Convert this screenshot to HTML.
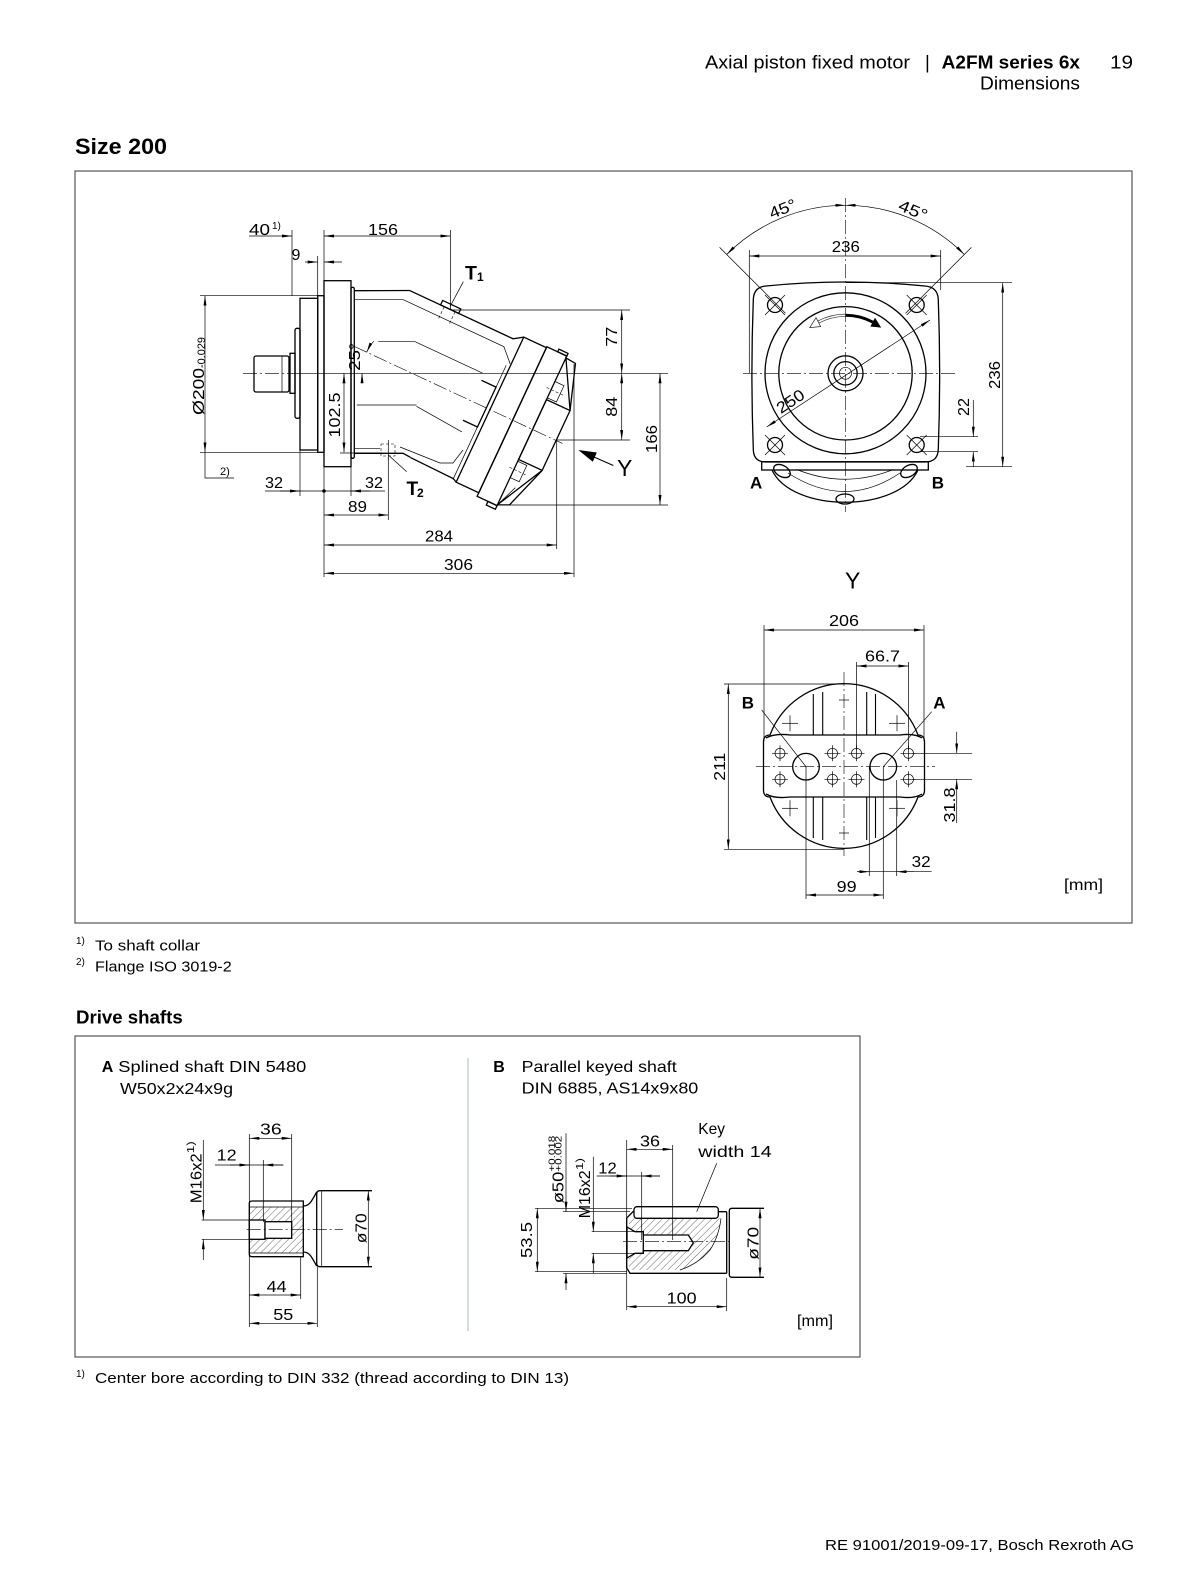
<!DOCTYPE html>
<html><head><meta charset="utf-8">
<style>
html,body{margin:0;padding:0;background:#fff;}
svg{display:block;}
text{font-family:"Liberation Sans",Arial,sans-serif;fill:#000;}
.o{fill:none;stroke:#000;stroke-width:1.3;}
.ow{fill:#fff;stroke:#000;stroke-width:1.3;}
.t{fill:none;stroke:#000;stroke-width:0.7;}
.d{fill:none;stroke:#000;stroke-width:0.7;}
.c{fill:none;stroke:#000;stroke-width:0.6;stroke-dasharray:14 3 2 3;}
.h{fill:none;stroke:#000;stroke-width:0.6;stroke-dasharray:3 2;}
</style></head><body>
<svg width="1190" height="1586" viewBox="0 0 1190 1586" xmlns="http://www.w3.org/2000/svg">
<defs>
<marker id="a" viewBox="0 0 10 3" refX="10" refY="1.5" markerWidth="10" markerHeight="3" markerUnits="userSpaceOnUse" orient="auto-start-reverse"><path d="M0,0 L10,1.5 L0,3 z" fill="#000"/></marker>
<pattern id="hat" patternUnits="userSpaceOnUse" width="5" height="5" patternTransform="rotate(45)"><line x1="0" y1="0" x2="0" y2="5" stroke="#000" stroke-width="0.6"/></pattern>
</defs>
<rect width="1190" height="1586" fill="#fff"/>

<!-- Header -->
<text x="705" y="68.3" font-size="18.5" textLength="205" lengthAdjust="spacingAndGlyphs">Axial piston fixed motor</text>
<text x="925" y="68.3" font-size="18.5">|</text>
<text x="941.7" y="68.3" font-size="18.5" font-weight="bold" textLength="138.3" lengthAdjust="spacingAndGlyphs">A2FM series 6x</text>
<text x="1110" y="68.3" font-size="18.5" textLength="23" lengthAdjust="spacingAndGlyphs">19</text>
<text x="980" y="89.3" font-size="18.5" textLength="100" lengthAdjust="spacingAndGlyphs">Dimensions</text>

<text x="75" y="154" font-size="22" font-weight="bold" textLength="92" lengthAdjust="spacingAndGlyphs">Size 200</text>

<!-- Main box -->
<rect x="75" y="171" width="1057" height="752" fill="none" stroke="#555" stroke-width="1.2"/>

<!-- ================= SIDE VIEW ================= -->
<g>
<rect class="o" x="254" y="356" width="35" height="36" rx="2"/>
<line class="t" x1="282" y1="356" x2="282" y2="392"/>
<rect class="o" x="290" y="353.3" width="5" height="40"/>
<rect class="o" x="295" y="328.3" width="5" height="90" rx="2"/>
<rect class="o" x="300" y="298.3" width="17.7" height="151.7"/>
<rect class="o" x="317.7" y="295.7" width="6.3" height="156.6"/>
<rect class="o" x="324" y="280.7" width="27" height="186"/>
<rect class="o" x="351" y="287.3" width="3.3" height="171" rx="1.5"/>
<polyline class="o" points="354.3,290.7 409.8,290.5"/>
<polyline class="o" points="354.3,453.3 403,453.3 410.2,457.2"/>
<!-- inner horizontal lines -->
<line class="t" x1="355" y1="299.3" x2="403.3" y2="299.3"/>
<line class="t" x1="378.3" y1="341.7" x2="415.7" y2="341.7"/>
<line class="t" x1="356.7" y1="405" x2="416.5" y2="405"/>
<line class="t" x1="354" y1="448.3" x2="380" y2="448.3"/>
<polyline class="t" points="400,447 440,463 453,463 463,450"/>
<!-- T2 port hidden -->
<rect class="h" x="381" y="444" width="14" height="12"/>
<line class="t" x1="388.3" y1="440" x2="388.3" y2="460"/>
</g>

<!-- tilted body -->
<g transform="translate(412 373.3) rotate(25)">
<polyline class="o" points="-37,-74 77,-74 86,-80"/>
<polyline class="o" points="34,77 82,78 86,80"/>
<rect class="o" x="86" y="-80" width="25" height="160"/>
<rect class="o" x="111" y="-81" width="22" height="165"/>
<rect class="o" x="123" y="-84" width="10" height="3"/>
<rect class="o" x="123" y="84" width="10" height="4"/>
<rect class="o" x="133" y="-33" width="26" height="66"/>
<polygon class="o" points="133,-79 144,-78 159,-33"/>
<polygon class="o" points="133,83 144,78 159,33"/>
<line class="t" x1="133" y1="83" x2="142" y2="60"/>
<rect class="t" x="133" y="-53" width="10" height="18"/>
<rect class="t" x="133" y="35" width="10" height="18"/>
<line class="h" x1="128" y1="-44" x2="148" y2="-44"/>
<line class="h" x1="128" y1="44" x2="148" y2="44"/>
<polyline class="o" points="66,-23 82,-23 82,21 66,21"/>
<line class="c" x1="-64" y1="0" x2="166" y2="0"/>
<polyline class="t" points="-39,-63 72,-63 85,-50"/>
<line class="t" x1="-10" y1="-30" x2="64" y2="-30"/>
<line class="t" x1="18" y1="28" x2="70" y2="32"/>
<line class="t" x1="82" y1="-47" x2="82" y2="79"/>
<rect class="o" x="-3" y="-79" width="20" height="5"/>
<line class="h" x1="1" y1="-74" x2="1" y2="-60"/>
<line class="h" x1="13" y1="-74" x2="13" y2="-60"/>
</g>

<!-- side view centerlines -->
<line class="c" x1="243" y1="373.3" x2="300" y2="373.3"/>
<line class="d" x1="300" y1="373.3" x2="668" y2="373.3"/>

<!-- side view dims -->
<line class="d" x1="249" y1="236" x2="292" y2="236" marker-end="url(#a)"/>
<line class="d" x1="324" y1="236" x2="450.5" y2="236" marker-start="url(#a)" marker-end="url(#a)"/>
<line class="d" x1="292" y1="230" x2="292" y2="296"/>
<line class="d" x1="324" y1="230" x2="324" y2="281"/>
<line class="d" x1="450.5" y1="230" x2="450.5" y2="310"/>
<line class="d" x1="305" y1="262" x2="317.7" y2="262" marker-end="url(#a)"/>
<line class="d" x1="342" y1="262" x2="324" y2="262" marker-end="url(#a)"/>
<line class="d" x1="317.7" y1="256" x2="317.7" y2="296"/>
<!-- Ø200 -->
<line class="d" x1="205" y1="295.7" x2="205" y2="452.3" marker-start="url(#a)" marker-end="url(#a)"/>
<line class="d" x1="200" y1="295.7" x2="318" y2="295.7"/>
<line class="d" x1="200" y1="452.3" x2="318" y2="452.3"/>
<polyline class="d" points="205,452.3 205,478 234,478"/>
<!-- 102.5 -->
<line class="d" x1="344" y1="373.3" x2="344" y2="452.3" marker-start="url(#a)" marker-end="url(#a)"/>
<line class="d" x1="340" y1="453" x2="382" y2="453"/>
<!-- 32 / 32 -->
<line class="d" x1="265" y1="491" x2="385" y2="491"/>
<line class="d" x1="280" y1="491" x2="300" y2="491" marker-end="url(#a)"/>
<line class="d" x1="370" y1="491" x2="351" y2="491" marker-end="url(#a)"/>
<circle cx="324" cy="491" r="1.8" fill="#000"/>
<line class="d" x1="300" y1="450" x2="300" y2="496"/>
<line class="d" x1="351" y1="467" x2="351" y2="496"/>
<line class="d" x1="324" y1="467" x2="324" y2="577"/>
<!-- 89 -->
<line class="d" x1="324" y1="515" x2="388.3" y2="515" marker-start="url(#a)" marker-end="url(#a)"/>
<line class="d" x1="388.3" y1="457" x2="388.3" y2="520"/>
<!-- 284 / 306 -->
<line class="d" x1="324" y1="545" x2="556.7" y2="545" marker-start="url(#a)" marker-end="url(#a)"/>
<line class="d" x1="556.7" y1="440" x2="556.7" y2="549"/>
<line class="d" x1="324" y1="573.3" x2="574" y2="573.3" marker-start="url(#a)" marker-end="url(#a)"/>
<line class="d" x1="574" y1="364" x2="574" y2="577"/>
<!-- 77 / 84 / 166 -->
<line class="d" x1="452" y1="310" x2="630" y2="310"/>
<line class="d" x1="557" y1="440" x2="630" y2="440"/>
<line class="d" x1="497" y1="505" x2="668" y2="505"/>
<line class="d" x1="621.7" y1="310" x2="621.7" y2="373.3" marker-start="url(#a)" marker-end="url(#a)"/>
<line class="d" x1="621.7" y1="373.3" x2="621.7" y2="440" marker-start="url(#a)" marker-end="url(#a)"/>
<line class="d" x1="660" y1="373.3" x2="660" y2="505" marker-start="url(#a)" marker-end="url(#a)"/>
<!-- 25° arc -->
<path class="d" d="M 373.7 341.2 A 50 50 0 0 0 366.7 352.2" marker-end="url(#a)"/>
<path class="d" d="M 362.8 382 A 50 50 0 0 1 362 373.3" marker-end="url(#a)"/>
<!-- leaders T1 T2 -->
<line class="d" x1="463.3" y1="281.7" x2="450" y2="306.7"/>
<line class="d" x1="388.3" y1="455" x2="406.7" y2="471.7"/>
<!-- Y arrow -->
<polygon points="578.3,450 596.8,452.5 592.8,461.7" fill="#000"/>
<line x1="594" y1="457" x2="613.3" y2="465.5" stroke="#000" stroke-width="1"/>

<!-- side view text -->
<text x="249" y="235" font-size="16" textLength="21" lengthAdjust="spacingAndGlyphs">40</text>
<text x="272" y="229" font-size="10">1)</text>
<text x="368" y="235" font-size="16" textLength="30" lengthAdjust="spacingAndGlyphs">156</text>
<text x="291.5" y="260" font-size="16">9</text>
<text x="465" y="279.3" font-size="19.5" font-weight="bold">T</text>
<text x="477" y="281" font-size="12" font-weight="bold">1</text>
<text x="406.5" y="495" font-size="19" font-weight="bold">T</text>
<text x="417" y="497" font-size="12" font-weight="bold">2</text>
<text transform="translate(204 415) rotate(-90)" font-size="16" textLength="47" lengthAdjust="spacingAndGlyphs">Ø200</text>
<text transform="translate(205 368) rotate(-90)" font-size="11" textLength="31" lengthAdjust="spacingAndGlyphs">-0.029</text>
<text transform="translate(340 415) rotate(-90)" font-size="16" text-anchor="middle" textLength="45" lengthAdjust="spacingAndGlyphs">102.5</text>
<text transform="translate(360 356.7) rotate(-90)" font-size="16" text-anchor="middle" textLength="28" lengthAdjust="spacingAndGlyphs">25°</text>
<text x="220" y="475" font-size="11">2)</text>
<text x="265" y="488" font-size="16" textLength="18" lengthAdjust="spacingAndGlyphs">32</text>
<text x="365" y="488" font-size="16" textLength="18" lengthAdjust="spacingAndGlyphs">32</text>
<text x="348" y="512" font-size="16" textLength="19" lengthAdjust="spacingAndGlyphs">89</text>
<text x="425" y="541.7" font-size="16" textLength="28" lengthAdjust="spacingAndGlyphs">284</text>
<text x="444" y="570" font-size="16" textLength="29" lengthAdjust="spacingAndGlyphs">306</text>
<text transform="translate(617 336.7) rotate(-90)" font-size="16" text-anchor="middle" textLength="20" lengthAdjust="spacingAndGlyphs">77</text>
<text transform="translate(617 406.7) rotate(-90)" font-size="16" text-anchor="middle" textLength="20" lengthAdjust="spacingAndGlyphs">84</text>
<text transform="translate(657 439) rotate(-90)" font-size="16" text-anchor="middle" textLength="28" lengthAdjust="spacingAndGlyphs">166</text>
<text x="617" y="476" font-size="23">Y</text>

<!-- ================= FRONT VIEW ================= -->
<path class="o" d="M 766 286 Q 845.5 278 925 286 Q 938 287 938.3 300 Q 941 373 938.3 449 Q 938 462 925 462 L 766 462 Q 753.3 462 753.3 449 Q 750.5 373 753.3 300 Q 753.5 287 766 286 Z"/>
<circle class="o" cx="845.5" cy="373.3" r="80.5"/>
<circle class="o" cx="845.5" cy="373.3" r="66.7"/>
<circle class="o" cx="845.5" cy="373.3" r="17.5"/>
<circle class="o" cx="845.5" cy="373.3" r="11.7"/>
<circle class="t" cx="845.5" cy="373.3" r="6"/>
<g class="o">
<circle cx="775" cy="305" r="7.5"/><circle cx="916.7" cy="305" r="7.5"/>
<circle cx="775" cy="445" r="7.5"/><circle cx="916.7" cy="445" r="7.5"/>
</g>
<g class="t">
<line x1="765" y1="295" x2="785" y2="315"/><line x1="765" y1="315" x2="785" y2="295"/>
<line x1="906.7" y1="295" x2="926.7" y2="315"/><line x1="906.7" y1="315" x2="926.7" y2="295"/>
<line x1="765" y1="435" x2="785" y2="455"/><line x1="765" y1="455" x2="785" y2="435"/>
<line x1="906.7" y1="435" x2="926.7" y2="455"/><line x1="906.7" y1="455" x2="926.7" y2="435"/>
</g>
<!-- rotation arrows -->
<path d="M 845.5 315.3 A 58 58 0 0 1 872.7 322.1" fill="none" stroke="#000" stroke-width="3"/>
<polygon points="881.2,327.6 875,317.7 870.4,326.5" fill="#000"/>
<path d="M 845.5 315.3 A 58 58 0 0 0 818.3 322.1" fill="none" stroke="#333" stroke-width="3"/>
<path d="M 845.5 315.3 A 58 58 0 0 0 818.3 322.1" fill="none" stroke="#fff" stroke-width="1.6"/>
<polygon points="809.8,327.6 816,317.7 820.6,326.5" fill="#fff" stroke="#333" stroke-width="0.8"/>
<!-- bottom lower portion -->
<rect class="o" x="761.7" y="461.7" width="166.6" height="8.3"/>
<path class="o" d="M 772 470 C 792 513, 898 513, 918 470"/>
<path class="t" d="M 796.7 469.5 Q 845 489 893.3 469.5"/>
<path class="t" d="M 788 473 Q 845 510 900 473"/>
<ellipse class="o" cx="782" cy="471" rx="9" ry="5.5" transform="rotate(30 782 471)" fill="#fff"/>
<ellipse class="o" cx="909" cy="471" rx="9" ry="5.5" transform="rotate(-30 909 471)" fill="#fff"/>
<ellipse class="o" cx="845" cy="499" rx="9" ry="5" fill="#fff"/>
<!-- centerlines -->
<line class="c" x1="845.5" y1="198" x2="845.5" y2="512"/>
<line class="c" x1="743" y1="373.3" x2="956" y2="373.3"/>
<!-- 45° -->
<line class="d" x1="719.6" y1="247.4" x2="785.4" y2="313.2"/>
<line class="d" x1="971.4" y1="247.4" x2="905.6" y2="313.2"/>
<path class="d" d="M 845.5 205.3 A 168 168 0 0 0 726.7 254.5" marker-start="url(#a)" marker-end="url(#a)"/>
<path class="d" d="M 845.5 205.3 A 168 168 0 0 1 964.3 254.5" marker-start="url(#a)" marker-end="url(#a)"/>
<text transform="translate(784.7 213.8) rotate(-22)" font-size="16" text-anchor="middle" textLength="28" lengthAdjust="spacingAndGlyphs">45°</text>
<text transform="translate(911.1 215.3) rotate(22)" font-size="16" text-anchor="middle" textLength="30" lengthAdjust="spacingAndGlyphs">45°</text>
<!-- 236 horizontal -->
<line class="d" x1="749.3" y1="256" x2="940.7" y2="256" marker-start="url(#a)" marker-end="url(#a)"/>
<line class="d" x1="749.3" y1="250" x2="749.3" y2="373"/>
<line class="d" x1="940.7" y1="250" x2="940.7" y2="290"/>
<text x="845.8" y="252" font-size="16" text-anchor="middle" textLength="28" lengthAdjust="spacingAndGlyphs">236</text>
<!-- 250 -->
<line class="d" x1="766.7" y1="427" x2="930" y2="320" marker-start="url(#a)" marker-end="url(#a)"/>
<text transform="translate(793.4 405.9) rotate(-33.3)" font-size="16" text-anchor="middle" textLength="30" lengthAdjust="spacingAndGlyphs">250</text>
<!-- 236 vertical -->
<line class="d" x1="1002.7" y1="282.7" x2="1002.7" y2="466.7" marker-start="url(#a)" marker-end="url(#a)"/>
<line class="d" x1="846" y1="282.7" x2="1012" y2="282.7"/>
<line class="d" x1="966" y1="466.7" x2="1012" y2="466.7"/>
<text transform="translate(1000 375) rotate(-90)" font-size="16" text-anchor="middle" textLength="28" lengthAdjust="spacingAndGlyphs">236</text>
<!-- 22 -->
<line class="d" x1="973.3" y1="400" x2="973.3" y2="436.7" marker-end="url(#a)"/>
<line class="d" x1="973.3" y1="467" x2="973.3" y2="451.7" marker-end="url(#a)"/>
<line class="d" x1="920" y1="436.7" x2="978" y2="436.7"/>
<line class="d" x1="920" y1="451.7" x2="978" y2="451.7"/>
<text transform="translate(969 407) rotate(-90)" font-size="16" text-anchor="middle" textLength="18" lengthAdjust="spacingAndGlyphs">22</text>
<text x="750" y="488.3" font-size="17" font-weight="bold">A</text>
<text x="931.7" y="488.3" font-size="17" font-weight="bold">B</text>

<!-- ================= Y VIEW ================= -->
<text x="845" y="588.3" font-size="23">Y</text>
<path class="o" d="M 770 735 A 79 79 0 0 1 918 735 Q 924.5 735 924.5 742 L 924.5 790 Q 924.5 797 918 797 A 79 79 0 0 1 770 797 Q 763.5 797 763.5 790 L 763.5 742 Q 763.5 735 770 735 Z"/>
<path class="o" d="M 766 738 Q 775 733 790 735 L 900 735 Q 914 733 922 738"/>
<path class="o" d="M 766 794 Q 775 799 790 797 L 900 797 Q 914 799 922 794"/>
<g stroke="#000" stroke-width="1.1">
<line x1="813.3" y1="694" x2="813.3" y2="735"/><line x1="822.7" y1="692" x2="822.7" y2="735"/>
<line x1="866.7" y1="692" x2="866.7" y2="735"/><line x1="875.5" y1="694" x2="875.5" y2="735"/>
<line x1="813.3" y1="797" x2="813.3" y2="838"/><line x1="822.7" y1="797" x2="822.7" y2="840"/>
<line x1="866.7" y1="797" x2="866.7" y2="840"/><line x1="875.5" y1="797" x2="875.5" y2="838"/>
</g>
<g class="t">
<line x1="782" y1="723.3" x2="798" y2="723.3"/><line x1="790" y1="715.3" x2="790" y2="731.3"/>
<line x1="889" y1="723.3" x2="905" y2="723.3"/><line x1="897" y1="715.3" x2="897" y2="731.3"/>
<line x1="782" y1="808.3" x2="798" y2="808.3"/><line x1="790" y1="800.3" x2="790" y2="816.3"/>
<line x1="889" y1="808.3" x2="905" y2="808.3"/><line x1="897" y1="800.3" x2="897" y2="816.3"/>
<line x1="839" y1="700" x2="849" y2="700"/>
<line x1="839" y1="833" x2="849" y2="833"/>
</g>
<circle class="o" cx="806" cy="766.7" r="13.3"/>
<circle class="o" cx="883.3" cy="766.7" r="13.3"/>
<g class="t">
<circle cx="780" cy="753.3" r="5"/><circle cx="780" cy="779.3" r="5"/>
<circle cx="832.5" cy="753.3" r="5"/><circle cx="832.5" cy="779.3" r="5"/>
<circle cx="856.5" cy="753.3" r="5"/><circle cx="856.5" cy="779.3" r="5"/>
<circle cx="908.5" cy="753.3" r="5"/><circle cx="908.5" cy="779.3" r="5"/>
<path d="M772 753.3h16M780 745.3v16M772 779.3h16M780 771.3v16
M824.5 753.3h16M832.5 745.3v16M824.5 779.3h16M832.5 771.3v16
M848.5 753.3h16M856.5 745.3v16M848.5 779.3h16M856.5 771.3v16
M900.5 753.3h16M908.5 745.3v16M900.5 779.3h16M908.5 771.3v16"/>
</g>
<line class="c" x1="756" y1="766.7" x2="935" y2="766.7"/>
<line class="c" x1="844" y1="672" x2="844" y2="856"/>
<line class="d" x1="761.7" y1="710" x2="806" y2="766.7"/>
<line class="d" x1="931.7" y1="711.7" x2="883.3" y2="766.7"/>
<text x="741.7" y="708.3" font-size="17" font-weight="bold">B</text>
<text x="933.3" y="708.3" font-size="17" font-weight="bold">A</text>
<!-- 206 -->
<line class="d" x1="764" y1="630" x2="924" y2="630" marker-start="url(#a)" marker-end="url(#a)"/>
<line class="d" x1="764" y1="625" x2="764" y2="741"/>
<line class="d" x1="924" y1="625" x2="924" y2="741"/>
<text x="844" y="626" font-size="16" text-anchor="middle" textLength="30" lengthAdjust="spacingAndGlyphs">206</text>
<!-- 66.7 -->
<line class="d" x1="856.5" y1="666" x2="908.5" y2="666" marker-start="url(#a)" marker-end="url(#a)"/>
<line class="d" x1="856.5" y1="662" x2="856.5" y2="750"/>
<line class="d" x1="908.5" y1="662" x2="908.5" y2="750"/>
<text x="865" y="661.7" font-size="16" textLength="35" lengthAdjust="spacingAndGlyphs">66.7</text>
<!-- 211 -->
<line class="d" x1="728.3" y1="684" x2="728.3" y2="849.3" marker-start="url(#a)" marker-end="url(#a)"/>
<line class="d" x1="724" y1="684" x2="844" y2="684"/>
<line class="d" x1="724" y1="849.3" x2="844" y2="849.3"/>
<text transform="translate(725 766.7) rotate(-90)" font-size="16" text-anchor="middle" textLength="28" lengthAdjust="spacingAndGlyphs">211</text>
<!-- 31.8 -->
<line class="d" x1="956.7" y1="731.7" x2="956.7" y2="753.3" marker-end="url(#a)"/>
<line class="d" x1="956.7" y1="823" x2="956.7" y2="779.3" marker-end="url(#a)"/>
<line class="d" x1="912" y1="753.3" x2="972" y2="753.3"/>
<line class="d" x1="912" y1="779.3" x2="972" y2="779.3"/>
<text transform="translate(955 805) rotate(-90)" font-size="16" text-anchor="middle" textLength="35" lengthAdjust="spacingAndGlyphs">31.8</text>
<!-- 32 -->
<line class="d" x1="857" y1="871.7" x2="931.7" y2="871.7"/>
<line class="d" x1="857" y1="871.7" x2="869.3" y2="871.7" marker-end="url(#a)"/>
<line class="d" x1="914" y1="871.7" x2="896.7" y2="871.7" marker-end="url(#a)"/>
<line class="d" x1="869.3" y1="766" x2="869.3" y2="876"/>
<line class="d" x1="896.7" y1="780" x2="896.7" y2="876"/>
<text x="911.7" y="867" font-size="16" textLength="19" lengthAdjust="spacingAndGlyphs">32</text>
<!-- 99 -->
<line class="d" x1="806" y1="895" x2="883.3" y2="895" marker-start="url(#a)" marker-end="url(#a)"/>
<line class="d" x1="806" y1="767" x2="806" y2="899"/>
<line class="d" x1="883.3" y1="767" x2="883.3" y2="899"/>
<text x="836.7" y="892" font-size="16" textLength="20" lengthAdjust="spacingAndGlyphs">99</text>

<text x="1064" y="890" font-size="16" textLength="39" lengthAdjust="spacingAndGlyphs">[mm]</text>

<!-- Footnotes -->
<text x="76" y="944" font-size="10">1)</text>
<text x="95" y="950.7" font-size="15" textLength="105" lengthAdjust="spacingAndGlyphs">To shaft collar</text>
<text x="76" y="965" font-size="10">2)</text>
<text x="95" y="971.7" font-size="15" textLength="136.7" lengthAdjust="spacingAndGlyphs">Flange ISO 3019-2</text>

<text x="76" y="1023.3" font-size="18" font-weight="bold" textLength="106.7" lengthAdjust="spacingAndGlyphs">Drive shafts</text>

<!-- Drive shafts box -->
<rect x="75" y="1036" width="785" height="321" fill="none" stroke="#555" stroke-width="1.2"/>
<line x1="468" y1="1058" x2="468" y2="1331" stroke="#c2ccd6" stroke-width="1.4"/>

<text x="101.7" y="1072" font-size="16" font-weight="bold">A</text>
<text x="118.3" y="1072" font-size="16" textLength="188" lengthAdjust="spacingAndGlyphs">Splined shaft DIN 5480</text>
<text x="120" y="1094" font-size="16" textLength="113" lengthAdjust="spacingAndGlyphs">W50x2x24x9g</text>
<text x="493.3" y="1072" font-size="16" font-weight="bold">B</text>
<text x="521.7" y="1072" font-size="16" textLength="155" lengthAdjust="spacingAndGlyphs">Parallel keyed shaft</text>
<text x="521.7" y="1093.3" font-size="16" textLength="176.6" lengthAdjust="spacingAndGlyphs">DIN 6885, AS14x9x80</text>

<!-- Shaft A -->
<rect x="250" y="1207" width="53.3" height="46" fill="url(#hat)"/>
<path class="o" d="M 252 1201 L 303.3 1201 L 303.3 1256.7 L 252 1256.7 Q 249.3 1256.7 249.3 1254 L 249.3 1203.7 Q 249.3 1201 252 1201 Z"/>
<line class="t" x1="249.3" y1="1207" x2="303.3" y2="1207"/>
<line class="t" x1="249.3" y1="1253" x2="303.3" y2="1253"/>
<rect class="ow" x="249.3" y="1220" width="15.7" height="19.3"/>
<rect class="ow" x="265" y="1221.7" width="26.7" height="16.6"/>
<path class="o" d="M 303.3 1206 C 310 1206, 312 1200, 316.7 1192"/>
<path class="o" d="M 303.3 1252 C 310 1252, 312 1258, 316.7 1266"/>
<path class="o" d="M 372 1190.7 L 320 1190.7 Q 316.7 1190.7 316.7 1194 L 316.7 1263.4 Q 316.7 1266.7 320 1266.7 L 372 1266.7"/>
<line class="t" x1="321.7" y1="1190.7" x2="321.7" y2="1266.7"/>
<line class="c" x1="246.7" y1="1229.3" x2="343" y2="1229.3"/>
<!-- A dims -->
<line class="d" x1="249.3" y1="1138.3" x2="291.7" y2="1138.3" marker-start="url(#a)" marker-end="url(#a)"/>
<line class="d" x1="249.3" y1="1134" x2="249.3" y2="1327"/>
<line class="d" x1="291.7" y1="1134" x2="291.7" y2="1222"/>
<line class="d" x1="215" y1="1165" x2="283.3" y2="1165"/>
<line class="d" x1="230" y1="1165" x2="249.3" y2="1165" marker-end="url(#a)"/>
<line class="d" x1="283.3" y1="1165" x2="263.3" y2="1165" marker-end="url(#a)"/>
<line class="d" x1="263.3" y1="1160" x2="263.3" y2="1222"/>
<line class="d" x1="203.3" y1="1140" x2="203.3" y2="1220" marker-end="url(#a)"/>
<line class="d" x1="203.3" y1="1260" x2="203.3" y2="1239.3" marker-end="url(#a)"/>
<line class="d" x1="201.7" y1="1220" x2="249.3" y2="1220"/>
<line class="d" x1="201.7" y1="1239.3" x2="249.3" y2="1239.3"/>
<line class="d" x1="368.3" y1="1190.7" x2="368.3" y2="1266.7" marker-start="url(#a)" marker-end="url(#a)"/>
<line class="d" x1="249.3" y1="1295" x2="300.7" y2="1295" marker-start="url(#a)" marker-end="url(#a)"/>
<line class="d" x1="300.7" y1="1257" x2="300.7" y2="1299"/>
<line class="d" x1="249.3" y1="1323.3" x2="317.3" y2="1323.3" marker-start="url(#a)" marker-end="url(#a)"/>
<line class="d" x1="317.3" y1="1267" x2="317.3" y2="1327"/>
<text x="260" y="1134.3" font-size="16" textLength="21.7" lengthAdjust="spacingAndGlyphs">36</text>
<text x="216.7" y="1160.7" font-size="16" textLength="20" lengthAdjust="spacingAndGlyphs">12</text>
<text transform="translate(201.7 1203.3) rotate(-90)" font-size="16" textLength="50" lengthAdjust="spacingAndGlyphs">M16x2</text>
<text transform="translate(194 1153.3) rotate(-90)" font-size="10" textLength="12" lengthAdjust="spacingAndGlyphs">1)</text>
<text transform="translate(366.5 1228.3) rotate(-90)" font-size="16" text-anchor="middle" textLength="30" lengthAdjust="spacingAndGlyphs">ø70</text>
<text x="266.7" y="1292" font-size="16" textLength="20" lengthAdjust="spacingAndGlyphs">44</text>
<text x="273.3" y="1320" font-size="16" textLength="20" lengthAdjust="spacingAndGlyphs">55</text>

<!-- Shaft B -->
<path d="M 629 1222 L 633 1218.3 L 721 1218.3 Q 719 1236 710 1250 Q 698 1264 680 1270 L 629 1270 Z" fill="url(#hat)"/>
<path class="o" d="M 726.7 1211.7 L 633 1211.7 L 626.7 1218 L 626.7 1268 L 630 1273.3 L 726.7 1273.3"/>
<path class="t" d="M 721 1218.3 Q 719 1236 710 1250 Q 698 1264 680 1270"/>
<polygon class="ow" points="627,1227 635,1231.7 643.3,1231.7 643.3,1235 688.3,1235 693.3,1242.8 688.3,1250.7 643.3,1250.7 643.3,1253.3 635,1253.3 627,1258"/>
<line class="o" x1="643.3" y1="1231.7" x2="643.3" y2="1253.3"/>
<rect class="ow" x="634" y="1206.7" width="84.3" height="11.6" rx="3"/>
<line class="o" x1="726.7" y1="1211.7" x2="726.7" y2="1273.3"/>
<path class="o" d="M 764 1208.3 L 732 1208.3 Q 729.3 1208.3 729.3 1211 L 729.3 1274.6 Q 729.3 1277.3 732 1277.3 L 764 1277.3"/>
<line class="c" x1="623" y1="1241.7" x2="733" y2="1241.7"/>
<!-- B dims -->
<line class="d" x1="537.3" y1="1208.3" x2="537.3" y2="1271.7" marker-start="url(#a)" marker-end="url(#a)"/>
<line class="d" x1="535" y1="1208.3" x2="632" y2="1208.3"/>
<line class="d" x1="535" y1="1271.7" x2="627" y2="1271.7"/>
<line class="d" x1="566" y1="1133.3" x2="566" y2="1211.7" marker-end="url(#a)"/>
<line class="d" x1="566" y1="1290" x2="566" y2="1273.3" marker-end="url(#a)"/>
<line class="d" x1="563" y1="1211.7" x2="630" y2="1211.7"/>
<line class="d" x1="563" y1="1273.3" x2="627" y2="1273.3"/>
<line class="d" x1="593.3" y1="1156.7" x2="593.3" y2="1231.7" marker-end="url(#a)"/>
<line class="d" x1="593.3" y1="1273.3" x2="593.3" y2="1253.3" marker-end="url(#a)"/>
<line class="d" x1="591.7" y1="1231.7" x2="635" y2="1231.7"/>
<line class="d" x1="591.7" y1="1253.3" x2="635" y2="1253.3"/>
<line class="d" x1="596.7" y1="1176" x2="660" y2="1176"/>
<line class="d" x1="610" y1="1176" x2="626.7" y2="1176" marker-end="url(#a)"/>
<line class="d" x1="660" y1="1176" x2="641.7" y2="1176" marker-end="url(#a)"/>
<line class="d" x1="641.7" y1="1172" x2="641.7" y2="1240"/>
<line class="d" x1="626.7" y1="1149.3" x2="672.7" y2="1149.3" marker-start="url(#a)" marker-end="url(#a)"/>
<line class="d" x1="672.7" y1="1145" x2="672.7" y2="1240"/>
<line class="d" x1="626.7" y1="1140" x2="626.7" y2="1310"/>
<line class="d" x1="626.7" y1="1306.7" x2="726.7" y2="1306.7" marker-start="url(#a)" marker-end="url(#a)"/>
<line class="d" x1="726.7" y1="1278" x2="726.7" y2="1311"/>
<line class="d" x1="760" y1="1208.3" x2="760" y2="1277.3" marker-start="url(#a)" marker-end="url(#a)"/>
<line class="d" x1="716.7" y1="1163.3" x2="696.7" y2="1211.7"/>
<text transform="translate(532 1240) rotate(-90)" font-size="16" text-anchor="middle" textLength="36" lengthAdjust="spacingAndGlyphs">53.5</text>
<text transform="translate(563.3 1203.3) rotate(-90)" font-size="16" textLength="31.6" lengthAdjust="spacingAndGlyphs">ø50</text>
<text transform="translate(555 1171.7) rotate(-90)" font-size="9.5" textLength="36" lengthAdjust="spacingAndGlyphs">+0.018</text>
<text transform="translate(561.7 1171.7) rotate(-90)" font-size="9.5" textLength="36" lengthAdjust="spacingAndGlyphs">+0.002</text>
<text transform="translate(590 1218.3) rotate(-90)" font-size="16" textLength="48" lengthAdjust="spacingAndGlyphs">M16x2</text>
<text transform="translate(583 1170) rotate(-90)" font-size="10" textLength="12" lengthAdjust="spacingAndGlyphs">1)</text>
<text x="598.3" y="1173.3" font-size="16" textLength="18.4" lengthAdjust="spacingAndGlyphs">12</text>
<text x="640" y="1146.7" font-size="16" textLength="20" lengthAdjust="spacingAndGlyphs">36</text>
<text x="698.3" y="1134" font-size="16" textLength="26.7" lengthAdjust="spacingAndGlyphs">Key</text>
<text x="698.3" y="1157" font-size="16" textLength="73.4" lengthAdjust="spacingAndGlyphs">width  14</text>
<text x="666.7" y="1303.3" font-size="16" textLength="30" lengthAdjust="spacingAndGlyphs">100</text>
<text transform="translate(758.3 1243.3) rotate(-90)" font-size="16" text-anchor="middle" textLength="33" lengthAdjust="spacingAndGlyphs">ø70</text>

<text x="797" y="1326" font-size="16" textLength="36" lengthAdjust="spacingAndGlyphs">[mm]</text>

<!-- bottom footnote -->
<text x="76" y="1377" font-size="10">1)</text>
<text x="95" y="1383" font-size="15" textLength="474" lengthAdjust="spacingAndGlyphs">Center bore according to DIN 332 (thread according to DIN 13)</text>

<!-- footer -->
<text x="825" y="1550" font-size="15" textLength="309" lengthAdjust="spacingAndGlyphs">RE 91001/2019-09-17, Bosch Rexroth AG</text>
</svg>
</body></html>
